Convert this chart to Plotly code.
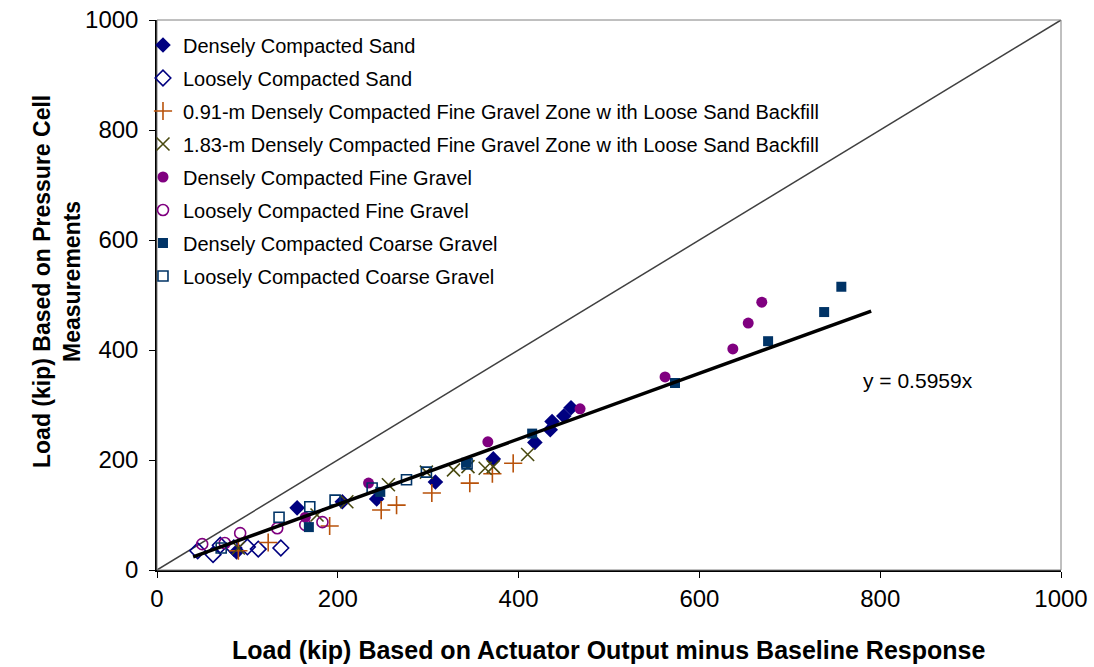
import plotly.graph_objects as go

# ---- data (kip) ----
dense_sand_x = [88, 155, 205, 243, 308, 372, 418, 435, 437, 450, 458]
dense_sand_y = [33, 113, 124, 129, 160, 202, 232, 255, 270, 280, 295]

loose_sand_x = [45, 62, 70, 85, 100, 112, 137]
loose_sand_y = [35, 28, 45, 40, 42, 38, 40]

g091_x = [90, 123, 191, 248, 265, 304, 346, 371, 394]
g091_y = [35, 50, 80, 109, 118, 140, 158, 175, 194]

g183_x = [90, 177, 210, 256, 298, 328, 344, 363, 372, 410]
g183_y = [40, 100, 124, 155, 178, 182, 188, 185, 188, 210]

dense_fine_x = [164, 234, 366, 468, 562, 637, 654, 669]
dense_fine_y = [96, 158, 233, 293, 351, 402, 449, 487]

loose_fine_x = [50, 75, 92, 133, 164, 183]
loose_fine_y = [47, 49, 67, 76, 82, 87]

dense_coarse_x = [168, 247, 342, 415, 573, 676, 738, 757]
dense_coarse_y = [78, 142, 195, 248, 340, 416, 469, 515]

loose_coarse_x = [71, 135, 169, 197, 238, 276, 298, 343]
loose_coarse_y = [40, 96, 115, 127, 149, 164, 178, 193]

slope = 0.5959
fit_x = [40, 790]
diag_x = [0, 1000]

names = [
    "Densely Compacted Sand",
    "Loosely Compacted Sand",
    "0.91-m Densely Compacted Fine Gravel Zone w ith Loose Sand Backfill",
    "1.83-m Densely Compacted Fine Gravel Zone w ith Loose Sand Backfill",
    "Densely Compacted Fine Gravel",
    "Loosely Compacted Fine Gravel",
    "Densely Compacted Coarse Gravel",
    "Loosely Compacted Coarse Gravel",
]

FONT = "Liberation Sans, Arial"

fig = go.Figure()

# 1:1 line
fig.add_trace(go.Scatter(x=diag_x, y=diag_x, mode="lines",
                         line=dict(color="#404040", width=1.5),
                         showlegend=False, hoverinfo="skip"))

series = [
    (dense_sand_x, dense_sand_y, "diamond", "#000080", 12, 0),
    (loose_sand_x, loose_sand_y, "diamond-open", "#000080", 12, 1.6),
    (g091_x, g091_y, "cross-thin-open", "#B8520A", 13, 1.6),
    (g183_x, g183_y, "x-thin-open", "#4A4A10", 13, 1.6),
    (dense_fine_x, dense_fine_y, "circle", "#800080", 11, 0),
    (loose_fine_x, loose_fine_y, "circle-open", "#800080", 11, 1.6),
    (dense_coarse_x, dense_coarse_y, "square", "#003366", 10, 0),
    (loose_coarse_x, loose_coarse_y, "square-open", "#003366", 10, 1.6),
]

for i, (xs, ys, sym, col, sz, lw) in enumerate(series):
    fig.add_trace(go.Scatter(
        x=xs, y=ys, mode="markers", name=names[i], legendgroup=f"g{i}",
        marker=dict(symbol=sym, color=col, size=sz,
                    line=dict(color=col, width=lw)),
    ))

# trend line
fig.add_trace(go.Scatter(x=fit_x, y=[slope * v for v in fit_x], mode="lines",
                         line=dict(color="black", width=3.5),
                         showlegend=False, hoverinfo="skip"))

fig.add_annotation(x=842, y=345, xref="x", yref="y", text="y = 0.5959x",
                   showarrow=False, xanchor="center",
                   font=dict(size=21, color="black", family=FONT))

# axis titles as annotations for exact placement
fig.add_annotation(x=0.5, y=650, xref="paper", yref="paper",
                   text="<b>Load (kip) Based on Actuator Output minus Baseline Response</b>",
                   showarrow=False, font=dict(size=25, color="black", family=FONT),
                   xanchor="center", yanchor="middle")
fig.add_annotation(x=57, y=282, text="<b>Load (kip) Based on Pressure Cell<br>Measurements</b>",
                   showarrow=False, textangle=-90,
                   font=dict(size=23, color="black", family=FONT),
                   xanchor="center", yanchor="middle")

axis_common = dict(range=[0, 1000], dtick=200, showgrid=False, zeroline=False,
                   showline=True, linecolor="black", linewidth=1.5,
                   ticks="outside", ticklen=6, tickcolor="black", automargin=False,
                   tickfont=dict(size=24, color="black", family=FONT))

W, H = 1094, 667
L, R, T, B = 157, 33, 20, 97

# convert the title annotation pixel positions to paper coords
for ann in fig.layout.annotations[1:]:
    pass

fig.update_layout(
    width=W, height=H,
    margin=dict(l=L, r=R, t=T, b=B),
    plot_bgcolor="white", paper_bgcolor="white",
    font=dict(family=FONT, color="black"),
    xaxis=dict(**axis_common),
    yaxis=dict(**axis_common, ticklabelstandoff=6),
    legend=dict(x=-0.0155, y=0.99, xanchor="left", yanchor="top",
                bgcolor="rgba(0,0,0,0)", font=dict(size=20),
                tracegroupgap=4, itemsizing="trace"),
    shapes=[dict(type="rect", xref="paper", yref="paper", x0=0, y0=0, x1=1, y1=1,
                 line=dict(color="#808080", width=1))],
)

pw, ph = W - L - R, H - T - B
anns = list(fig.layout.annotations)
anns[1].update(x=(608 - L) / pw, y=(H - B - 650) / ph)
anns[2].update(xref="paper", yref="paper", x=(57 - L) / pw, y=(H - B - 282) / ph)
fig.layout.annotations = anns

fig.write_html("out.html")
